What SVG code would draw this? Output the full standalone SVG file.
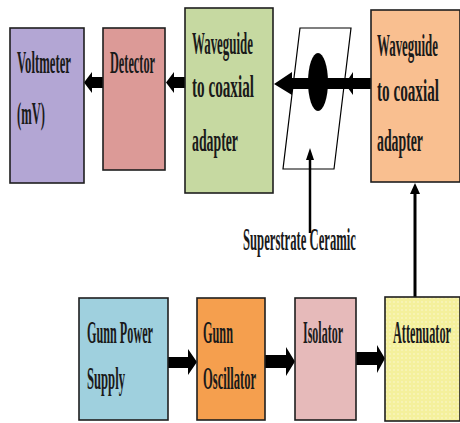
<svg xmlns="http://www.w3.org/2000/svg" width="460" height="423" viewBox="0 0 460 423">
<style>
.box{stroke:#1e1e1e;stroke-width:1.6}
.t{font-family:"Liberation Serif","Times New Roman",serif;font-size:31px;font-weight:bold;fill:#1a1a1a}
.ar{fill:#000}
</style>
<defs>
<pattern id="dots" width="4" height="4" patternUnits="userSpaceOnUse">
<rect width="4" height="4" fill="#f4f09c"/>
<circle cx="2" cy="2" r="0.8" fill="#fbf8d0"/>
</pattern>
</defs>
<rect width="460" height="423" fill="#fff"/>
<g id="superstrate">
<polygon points="300,28 351,28 334,169 283,169" fill="#fff" stroke="#000" stroke-width="1.2"/>
<text class="t" transform="translate(243,250) scale(0.5,1)" textLength="226" lengthAdjust="spacingAndGlyphs">Superstrate Ceramic</text>
</g>
<g id="connectors">
<polygon class="ar" points="103,77 92,77 92,72 84,82.5 92,93 92,88 103,88"/>
<polygon class="ar" points="185,77 174,77 174,72 166,82.5 174,93 174,88 185,88"/>
<polygon class="ar" points="371,78 292,78 292,72 274,84 292,95 292,89 371,89"/>
<polygon class="ar" points="371,78 353,78 353,72 345,84 353,95 353,89 371,89"/>
<ellipse cx="318" cy="82" rx="10" ry="29" fill="#000"/>
<line x1="310" y1="233" x2="310" y2="158" stroke="#000" stroke-width="2.5"/>
<polygon class="ar" points="306,160 310,148 314,160"/>
<line x1="415" y1="297" x2="415" y2="192" stroke="#000" stroke-width="3"/>
<polygon class="ar" points="410,194 415,183 420,194"/>
<polygon class="ar" points="168,357 188,357 188,349 197,362 188,375 188,368 168,368"/>
<polygon class="ar" points="265,355 286,355 286,347 295,361.5 286,376 286,368 265,368"/>
<polygon class="ar" points="356,352 377,352 377,345 385,358.5 377,373 377,365 356,365"/>
</g>
<g id="voltmeter">
<rect class="box" x="10" y="28" width="74" height="155" fill="#b3a6d4"/>
<text class="t" transform="translate(17,73) scale(0.5,1)" textLength="108" lengthAdjust="spacingAndGlyphs">Voltmeter</text>
<text class="t" transform="translate(17,124) scale(0.5,1)" textLength="56" lengthAdjust="spacingAndGlyphs">(mV)</text>
</g>
<g id="detector">
<rect class="box" x="103" y="28" width="62" height="142" fill="#dc9a97"/>
<text class="t" transform="translate(110,73) scale(0.5,1)" textLength="90" lengthAdjust="spacingAndGlyphs">Detector</text>
</g>
<g id="waveguide-left">
<rect class="box" x="185" y="8" width="88" height="185" fill="#c6d9a1"/>
<text class="t" transform="translate(192,54) scale(0.5,1)" textLength="122" lengthAdjust="spacingAndGlyphs">Waveguide</text>
<text class="t" transform="translate(192,97) scale(0.5,1)" textLength="124" lengthAdjust="spacingAndGlyphs">to coaxial</text>
<text class="t" transform="translate(192,151) scale(0.5,1)" textLength="92" lengthAdjust="spacingAndGlyphs">adapter</text>
</g>
<g id="waveguide-right">
<rect class="box" x="371" y="10" width="89" height="172" fill="#f9bf90"/>
<text class="t" transform="translate(377,56) scale(0.5,1)" textLength="122" lengthAdjust="spacingAndGlyphs">Waveguide</text>
<text class="t" transform="translate(377,101) scale(0.5,1)" textLength="124" lengthAdjust="spacingAndGlyphs">to coaxial</text>
<text class="t" transform="translate(377,151) scale(0.5,1)" textLength="92" lengthAdjust="spacingAndGlyphs">adapter</text>
</g>
<g id="gunn-power">
<rect class="box" x="79" y="298" width="89" height="122" fill="#9fd0de"/>
<text class="t" transform="translate(87,343) scale(0.5,1)" textLength="132" lengthAdjust="spacingAndGlyphs">Gunn Power</text>
<text class="t" transform="translate(87,389) scale(0.5,1)" textLength="76" lengthAdjust="spacingAndGlyphs">Supply</text>
</g>
<g id="gunn-osc">
<rect class="box" x="197" y="298" width="68" height="122" fill="#f59f4e"/>
<text class="t" transform="translate(203,343) scale(0.5,1)" textLength="60" lengthAdjust="spacingAndGlyphs">Gunn</text>
<text class="t" transform="translate(203,389) scale(0.5,1)" textLength="106" lengthAdjust="spacingAndGlyphs">Oscillator</text>
</g>
<g id="isolator">
<rect class="box" x="295" y="298" width="61" height="122" fill="#e6baba"/>
<text class="t" transform="translate(303,343) scale(0.5,1)" textLength="80" lengthAdjust="spacingAndGlyphs">Isolator</text>
</g>
<g id="attenuator">
<rect class="box" x="385" y="297" width="75" height="124" fill="url(#dots)"/>
<text class="t" transform="translate(393,343) scale(0.5,1)" textLength="116" lengthAdjust="spacingAndGlyphs">Attenuator</text>
</g>
</svg>
